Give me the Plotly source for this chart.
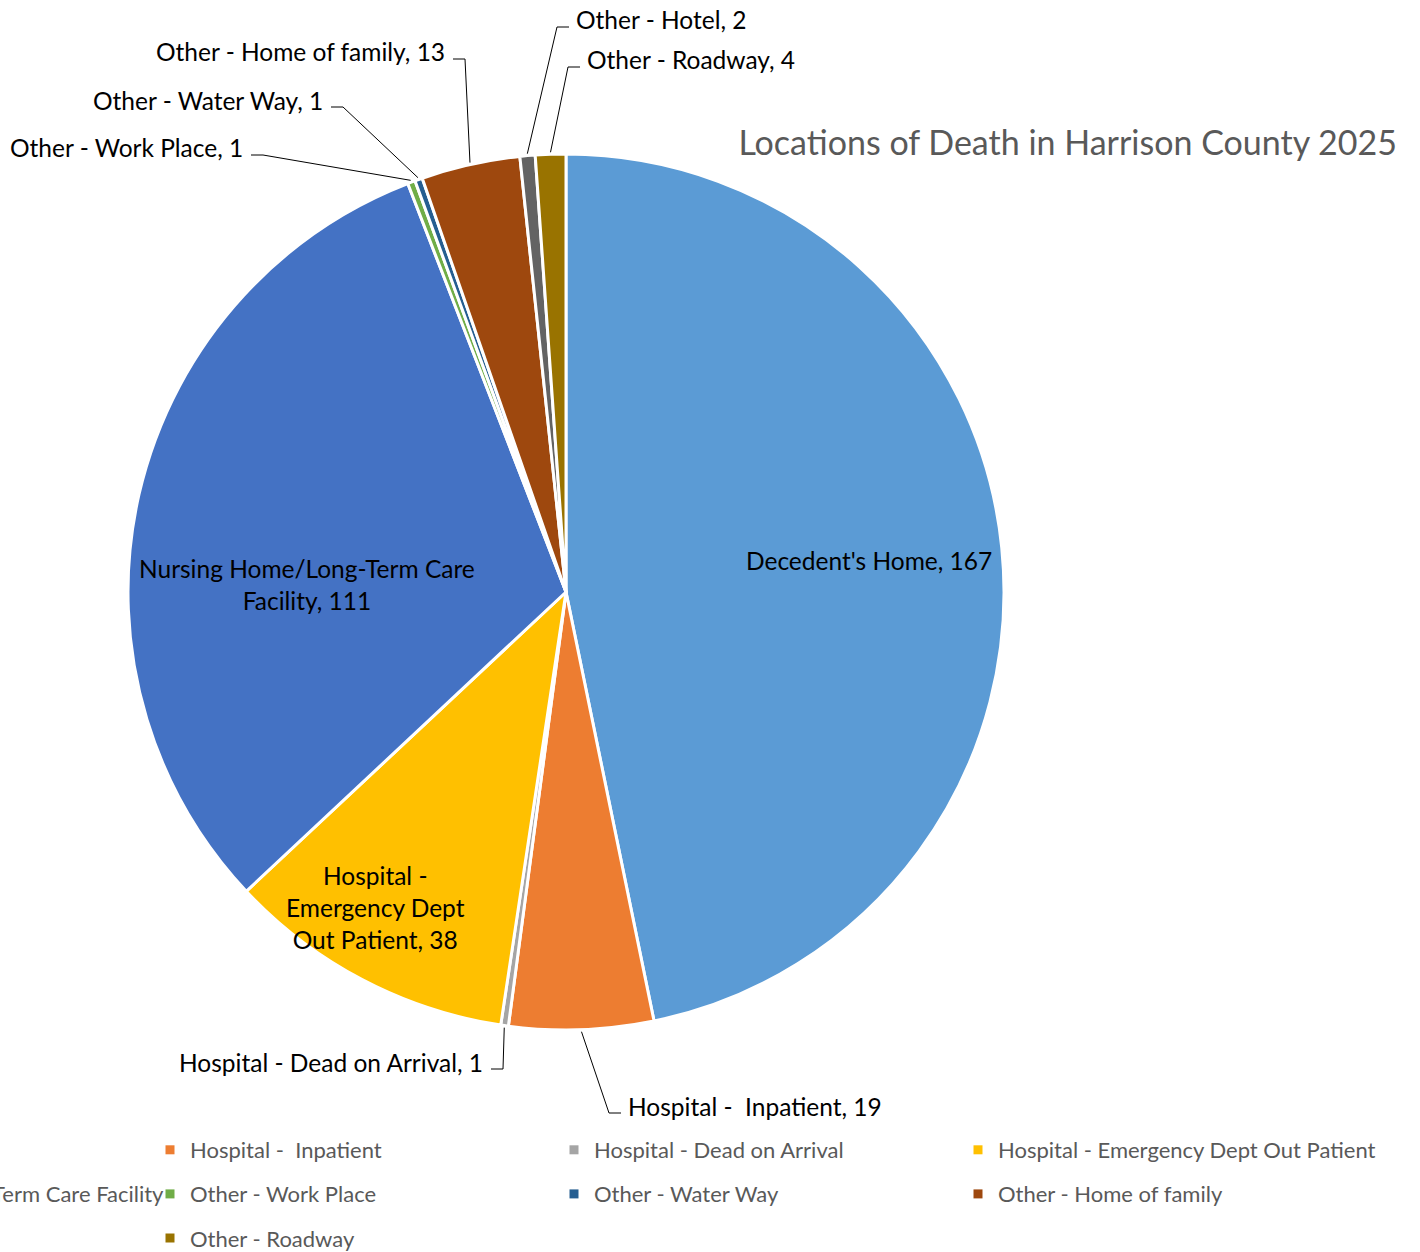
import math
import plotly.graph_objects as go

# Datos
labels = ["Decedent's Home", "Hospital -  Inpatient", "Hospital - Dead on Arrival",
          "Hospital - Emergency Dept Out Patient", "Nursing Home/Long-Term Care Facility",
          "Other - Work Place", "Other - Water Way", "Other - Home of family",
          "Other - Hotel", "Other - Roadway"]
values = [167, 19, 1, 38, 111, 1, 1, 13, 2, 4]
colors = ["#5B9BD5", "#ED7D31", "#A5A5A5", "#FFC000", "#4472C4",
          "#70AD47", "#255E91", "#9E480E", "#636363", "#997300"]
title = "Locations of Death in Harrison County 2025"

W, H = 1420, 1252
FONT = "Lato"
LABEL_SIZE = 24.5

# geometría del pastel (px)
CX, CY, R = 566, 592, 438


def fx(px):
    return px / W


def fy(py):
    return 1 - py / H


fig = go.Figure()

fig.add_trace(go.Pie(
    labels=labels,
    values=values,
    sort=False,
    direction="clockwise",
    rotation=0,
    marker=dict(colors=colors, line=dict(color="white", width=3)),
    textinfo="none",
    showlegend=False,
    domain=dict(x=[fx(CX - R), fx(CX + R)], y=[fy(CY + R), fy(CY - R)]),
))

# Leyenda en 4 columnas (como en el original, la primera queda cortada)
legend_cols = [[0, 4, 8], [1, 5, 9], [2, 6], [3, 7]]
legend_names = ["legend", "legend2", "legend3", "legend4"]
for col, lg in zip(legend_cols, legend_names):
    for i in col:
        fig.add_trace(go.Scatter(
            x=[None], y=[None], mode="markers", name=labels[i],
            marker=dict(symbol="square", size=9, color=colors[i]),
            legend=lg, legendgroup=labels[i], showlegend=True,
        ))

legend_style = dict(orientation="v", font=dict(family=FONT, size=22, color="#595959"),
                    bgcolor="rgba(0,0,0,0)", tracegroupgap=12.5, yanchor="top", y=fy(1129))
fig.update_layout(
    legend=dict(legend_style, x=fx(170), xanchor="right"),
    legend2=dict(legend_style, x=fx(150), xanchor="left"),
    legend3=dict(legend_style, x=fx(554), xanchor="left"),
    legend4=dict(legend_style, x=fx(958), xanchor="left"),
)

# Etiquetas dentro del pastel
inside = {
    0: (869, 560, "Decedent's Home, 167"),
    4: (307, 584, "Nursing Home/Long-Term Care<br>Facility, 111"),
    3: (375, 907, "Hospital -<br>Emergency Dept<br>Out Patient, 38"),
}
for i, (px, py, txt) in inside.items():
    fig.add_annotation(x=fx(px), y=fy(py), xref="paper", yref="paper", text=txt,
                       showarrow=False, font=dict(family=FONT, size=LABEL_SIZE, color="black"),
                       xanchor="center", yanchor="middle", align="center")

# Etiquetas externas con líneas guía
outside = {
    7: (447, 52, "right"),
    6: (325, 100, "right"),
    5: (245, 148, "right"),
    8: (574, 20, "left"),
    9: (585, 60, "left"),
    2: (485, 1062, "right"),
    1: (626, 1106, "left"),
}
total = sum(values)
cum = [sum(values[:k]) for k in range(len(values))]
for i, (tx, ty, side) in outside.items():
    mid = (cum[i] + values[i] / 2) / total * 2 * math.pi
    ex = CX + (R + 2) * math.sin(mid)
    ey = CY - (R + 2) * math.cos(mid)
    ly = ty + 7
    if side == "right":
        x0, x1 = tx + 6, tx + 18
    else:
        x0, x1 = tx - 5, tx - 17
    fig.add_shape(type="path", xref="paper", yref="paper",
                  path=f"M {fx(x0)},{fy(ly)} L {fx(x1)},{fy(ly)} L {fx(ex)},{fy(ey)}",
                  line=dict(color="black", width=1))
    fig.add_annotation(x=fx(tx), y=fy(ty), xref="paper", yref="paper",
                       text=f"{labels[i]}, {values[i]}", showarrow=False,
                       font=dict(family=FONT, size=LABEL_SIZE, color="black"),
                       xanchor="right" if side == "right" else "left", yanchor="middle")

fig.update_layout(
    width=W, height=H,
    margin=dict(l=0, r=0, t=0, b=0, autoexpand=False),
    paper_bgcolor="white", plot_bgcolor="white",
    xaxis=dict(visible=False), yaxis=dict(visible=False),
    title=dict(text=title, x=fx(1397), xanchor="right", y=fy(143), yanchor="middle",
               font=dict(family=FONT, size=34, color="#595959")),
)

# quitar el margen por defecto del <body> para que la figura ocupe la ventana
fig.write_html("out.html", config={"displayModeBar": False},
               post_script="document.body.style.margin='0';")
